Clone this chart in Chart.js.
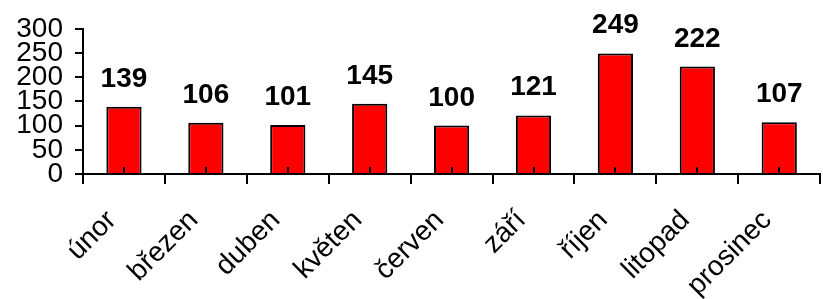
<!DOCTYPE html>
<html>
<head>
<meta charset="utf-8">
<script src="https://cdn.jsdelivr.net/npm/chart.js@4/dist/chart.umd.min.js"></script>
<style>
  html, body { margin: 0; padding: 0; background: #fff; }
  #wrap { width: 823px; height: 299px; }
</style>
</head>
<body>
<div id="wrap"><canvas id="myChart"></canvas></div>
<script>
var months = ['únor', 'březen', 'duben', 'květen', 'červen', 'září', 'říjen', 'litopad', 'prosinec']
var counts = [139, 106, 101, 145, 100, 121, 249, 222, 107]
var yTicks = [0, 50, 100, 150, 200, 250, 300]

// value labels above the bars + small inner ticks at the category centres
var barLabels = {
    id: 'barLabels',
    afterDraw(chart) {
        var ctx = chart.ctx
        var meta = chart.getDatasetMeta(0)
        var xs = chart.scales.x
        var bottom = chart.chartArea.bottom
        ctx.save()
        ctx.strokeStyle = '#000'
        ctx.lineWidth = 2
        for (var i = 0; i < months.length; i++) {
            var cx = Math.round(xs.getPixelForValue(i))
            ctx.beginPath()
            ctx.moveTo(cx, bottom)
            ctx.lineTo(cx, bottom - 7)
            ctx.stroke()
        }
        ctx.fillStyle = '#000'
        ctx.font = 'bold 28px "Liberation Sans", Arial, sans-serif'
        ctx.textAlign = 'center'
        ctx.textBaseline = 'alphabetic'
        meta.data.forEach(function (bar, i) {
            ctx.fillText(String(counts[i]), bar.x, bar.y - 20)
        })
        ctx.restore()
    }
}

var ctx = document.getElementById('myChart').getContext('2d')
var myChart = new Chart(ctx, {
    type: 'bar',
    data: {
        labels: months,
        datasets: [{
            data: counts,
            backgroundColor: '#ff0000',
            borderColor: '#000000',
            borderWidth: 2,
            barPercentage: 0.43,
            categoryPercentage: 1
        }]
    },
    plugins: [barLabels],
    options: {
        responsive: true,
        maintainAspectRatio: false,
        animation: false,
        layout: { padding: { top: 14, left: 0, right: 0, bottom: 0 } },
        plugins: {
            legend: { display: false },
            tooltip: { enabled: false }
        },
        scales: {
            x: {
                afterFit: function (axis) { axis.height = 125 },
                grid: { drawOnChartArea: false, tickLength: 10, color: '#000', lineWidth: 2 },
                border: { color: '#000', width: 2 },
                ticks: {
                    color: '#000',
                    font: { family: '"Liberation Sans", Arial, sans-serif', size: 28 },
                    minRotation: 45,
                    maxRotation: 45,
                    autoSkip: false,
                    labelOffset: -12,
                    padding: 20
                }
            },
            y: {
                min: 0,
                max: 300,
                afterBuildTicks: function (axis) {
                    axis.ticks = yTicks.map(function (v) { return { value: v } })
                },
                afterFit: function (axis) { axis.width = 83 },
                grid: { drawOnChartArea: false, tickLength: 8, color: '#000', lineWidth: 2 },
                border: { color: '#000', width: 2 },
                ticks: {
                    color: '#000',
                    font: { family: '"Liberation Sans", Arial, sans-serif', size: 28 },
                    autoSkip: false,
                    padding: 12
                }
            }
        }
    }
})
</script>
</body>
</html>
